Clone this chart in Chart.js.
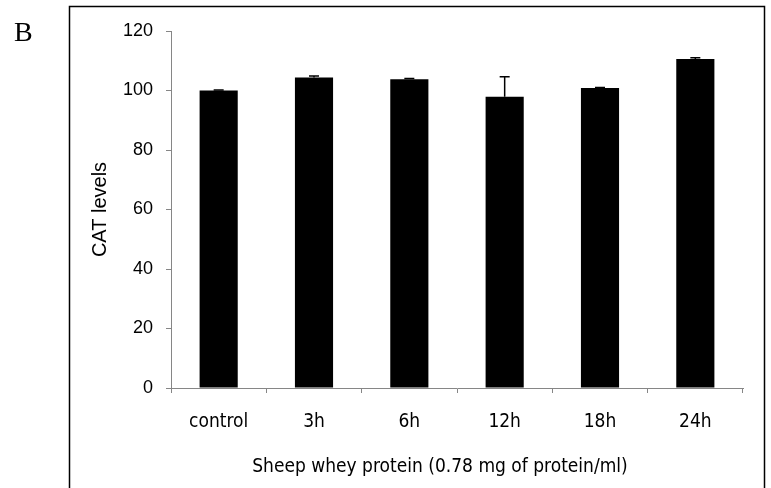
<!DOCTYPE html>
<html lang="en">
<head>
    <meta charset="UTF-8">
    <title>CAT levels</title>
    <script src="https://cdn.jsdelivr.net/npm/chart.js"></script>
    <style>
        body {
            margin: 0;
            background: #fff;
        }
        #chart {
            display: block;
        }
    </style>
</head>
<body>
    <canvas id="chart" width="771" height="488"></canvas>

    <script>
        const categories = ['control', '3h', '6h', '12h', '18h', '24h'];
        const catLevels = [100, 104.4, 103.8, 97.9, 100.8, 110.6];
        const catErrors = [0.2, 0.5, 0.2, 6.7, 0.2, 0.4];
        const yTicks = [0, 20, 40, 60, 80, 100, 120];
        const xTitle = 'Sheep whey protein (0.78 mg of protein/ml)';

        const narrowFont = "'Liberation Sans Narrow', 'DejaVu Sans Condensed', sans-serif";
        const axisGray = '#868686';

        // panel frame, the "B" panel letter and the x-axis caption
        const framePlugin = {
            id: 'frame',
            beforeDraw(chart) {
                const ctx = chart.ctx;
                ctx.save();
                ctx.fillStyle = '#fff';
                ctx.fillRect(0, 0, chart.width, chart.height);
                ctx.strokeStyle = '#000';
                ctx.lineWidth = 1.5;
                ctx.strokeRect(69.5, 6.5, 695, 500);
                ctx.fillStyle = '#000';
                ctx.font = "28px 'Liberation Serif', serif";
                ctx.textBaseline = 'alphabetic';
                ctx.fillText('B', 14, 41);
                // caption sits a bit left of the plot centre
                ctx.font = '19px ' + narrowFont;
                ctx.textAlign = 'center';
                ctx.fillText(xTitle, 440, 472);
                ctx.restore();
            }
        };

        // upper error bars on top of each column
        const errorBarPlugin = {
            id: 'errorBars',
            afterDatasetsDraw(chart) {
                const ctx = chart.ctx;
                const y = chart.scales.y;
                const meta = chart.getDatasetMeta(0);
                ctx.save();
                ctx.strokeStyle = '#000';
                ctx.lineWidth = 1.5;
                meta.data.forEach((bar, i) => {
                    const top = y.getPixelForValue(catLevels[i]);
                    const end = y.getPixelForValue(catLevels[i] + catErrors[i]);
                    ctx.beginPath();
                    ctx.moveTo(bar.x, top);
                    ctx.lineTo(bar.x, end);
                    ctx.moveTo(bar.x - 5, end);
                    ctx.lineTo(bar.x + 5, end);
                    ctx.stroke();
                });
                ctx.restore();
            }
        };

        new Chart(document.getElementById('chart'), {
            type: 'bar',
            data: {
                labels: categories,
                datasets: [{
                    data: catLevels,
                    backgroundColor: '#000',
                    borderWidth: 0,
                    categoryPercentage: 1,
                    barPercentage: 0.4
                }]
            },
            options: {
                responsive: false,
                animation: false,
                layout: {
                    padding: { left: 80, top: 31, right: 28, bottom: 0 }
                },
                plugins: {
                    legend: { display: false },
                    tooltip: { enabled: false }
                },
                scales: {
                    x: {
                        grid: {
                            drawOnChartArea: false,
                            drawTicks: true,
                            tickLength: 5,
                            color: axisGray
                        },
                        border: { color: axisGray },
                        ticks: {
                            color: '#000',
                            padding: 18,
                            font: { family: narrowFont, size: 19 }
                        },
                        afterFit(scale) {
                            scale.height = 100;
                        }
                    },
                    y: {
                        min: 0,
                        max: 120,
                        afterBuildTicks(scale) {
                            scale.ticks = yTicks.map(v => ({ value: v }));
                        },
                        grid: {
                            drawOnChartArea: false,
                            drawTicks: true,
                            tickLength: 5,
                            color: axisGray
                        },
                        border: { color: axisGray },
                        ticks: {
                            color: '#000',
                            padding: 13,
                            font: { family: "'Liberation Sans', Arial, sans-serif", size: 18 }
                        },
                        title: {
                            display: true,
                            text: 'CAT levels',
                            color: '#000',
                            font: { family: "'Liberation Sans', Arial, sans-serif", size: 20 },
                            padding: { top: 8, bottom: 0 }
                        },
                        afterFit(scale) {
                            scale.width = 91;
                        }
                    }
                }
            },
            plugins: [framePlugin, errorBarPlugin]
        });
    </script>
</body>
</html>
